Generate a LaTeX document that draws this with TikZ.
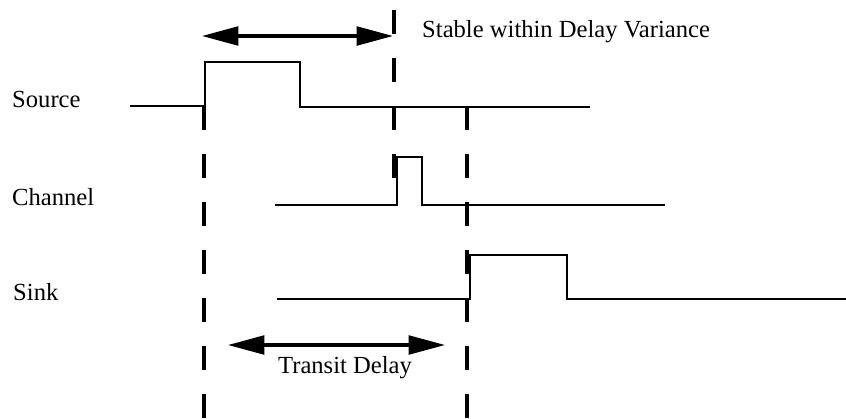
\documentclass[tikz,border=0pt]{standalone}
\usepackage{fontspec}
\setmainfont{Liberation Serif}
\usetikzlibrary{arrows.meta}

\begin{document}
\begin{tikzpicture}[x=0.03cm, y=-0.03cm]
        % styles
        \tikzstyle{signame}=[anchor=base west, inner sep=0pt, font=\fontsize{21}{25}\selectfont]
        \tikzstyle{signal}=[line width=2.5pt, line join=miter]
        \tikzstyle{marker}=[line width=2.8pt, dash pattern=on 20.5pt off 20.5pt]
        \tikzstyle{span}=[line width=2.6pt, {Triangle[length=31pt,width=16pt]}-{Triangle[length=31pt,width=16pt]}]

        \useasboundingbox (0,0) rectangle (846,418);

        % names
        \node[signame] (source) at (12,107) {Source};
        \node[signame] (channel) at (12,205) {Channel};
        \node[signame] (sink) at (13,300) {Sink};

        % signals
        \draw[signal] (130,106) -- (205,106) -- (205,62) -- (300,62) -- (300,107) -- (590,107);
        \draw[signal] (275,205) -- (397,205) -- (397,157) -- (422,157) -- (422,205) -- (665,205);
        \draw[signal] (277,299) -- (470,299) -- (470,255) -- (567,255) -- (567,299) -- (846,299);

        % markers
        \draw[marker] (394,10) -- (394,178);
        \draw[marker] (204,106) -- (204,418);
        \draw[marker] (467,106) -- (467,418);

        % delays
        \coordinate (varL) at (202,36);
        \coordinate (varR) at (393,36);
        \draw[span] (varL) -- (varR);
        \node[signame] (variance) at (422,37) {Stable within Delay Variance};

        \coordinate (transL) at (228,345);
        \coordinate (transR) at (445,345);
        \draw[span] (transL) -- (transR);
        \node[signame, anchor=base] (transit) at (345,373) {Transit Delay};
    \end{tikzpicture}
\end{document}
